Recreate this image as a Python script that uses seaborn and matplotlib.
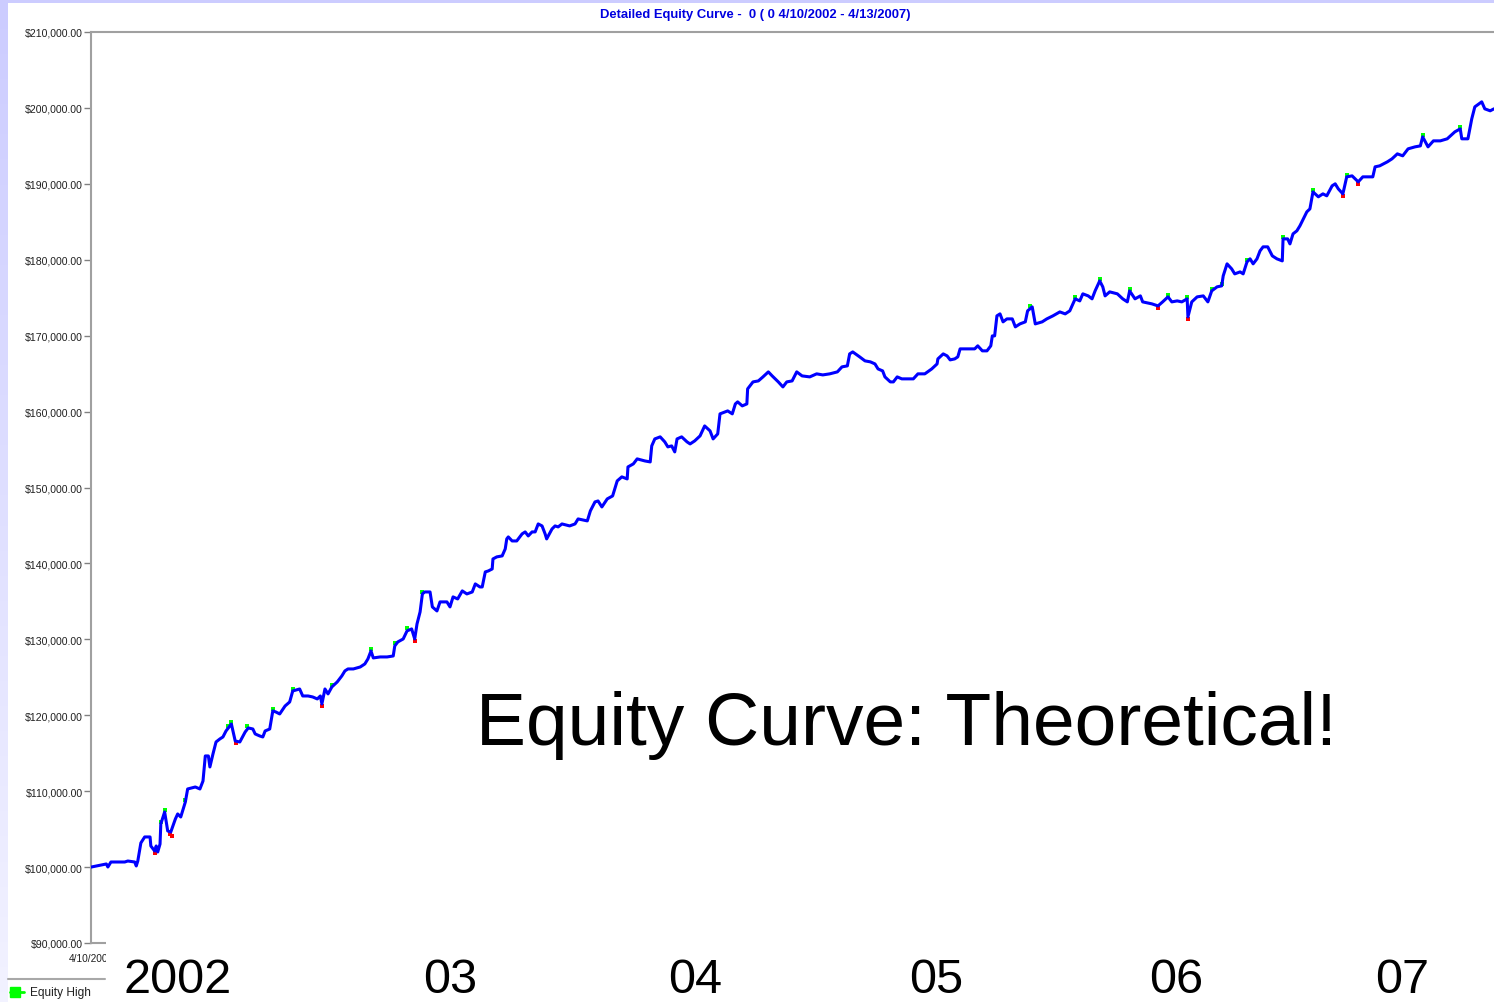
import numpy as np
import pandas as pd
import matplotlib
matplotlib.use("Agg")
import matplotlib.pyplot as plt
import seaborn as sns
from matplotlib.ticker import FuncFormatter
from matplotlib.patches import Rectangle
from matplotlib.lines import Line2D

start = pd.Timestamp("2002-04-10")
end = pd.Timestamp("2007-04-13")

# days after 4/10/2002 and closing equity
days = [0, 20, 22, 26, 44, 48, 57, 59, 61, 65,
        70, 77, 78, 83, 85, 87, 90, 91, 96, 100,
        104, 110, 113, 117, 123, 126, 136, 142, 146, 149,
        153, 155, 159, 163, 168, 172, 176, 183, 188, 194,
        201, 205, 211, 214, 220, 224, 227, 233, 237, 241,
        246, 253, 259, 263, 272, 276, 283, 289, 295, 299,
        301, 305, 309, 314, 321, 327, 331, 335, 342, 351,
        357, 361, 365, 368, 377, 386, 394, 396, 400, 407,
        412, 418, 422, 425, 429, 432, 435, 442, 445, 451,
        455, 464, 468, 472, 478, 484, 490, 497, 501, 507,
        510, 514, 518, 523, 524, 529, 536, 540, 542, 544,
        549, 555, 562, 566, 570, 575, 579, 583, 588, 592,
        594, 601, 605, 609, 614, 624, 631, 635, 647, 651,
        657, 661, 666, 673, 680, 686, 692, 699, 700, 707,
        712, 722, 729, 731, 735, 742, 748, 752, 757, 761,
        764, 770, 777, 781, 787, 794, 800, 807, 811, 817,
        820, 830, 836, 840, 843, 849, 855, 856, 863, 870,
        876, 883, 888, 892, 896, 902, 907, 914, 920, 927,
        937, 946, 954, 963, 973, 979, 986, 989, 993, 1002,
        1009, 1016, 1022, 1026, 1032, 1035, 1042, 1046, 1051, 1057,
        1064, 1072, 1078, 1087, 1096, 1103, 1104, 1111, 1116, 1120,
        1126, 1130, 1133, 1142, 1152, 1156, 1162, 1168, 1173, 1175,
        1178, 1181, 1185, 1189, 1194, 1201, 1205, 1211, 1218, 1221,
        1227, 1231, 1240, 1246, 1254, 1263, 1270, 1276, 1283, 1289,
        1293, 1300, 1305, 1309, 1315, 1319, 1322, 1328, 1338, 1345,
        1351, 1354, 1361, 1368, 1371, 1383, 1391, 1397, 1404, 1409,
        1416, 1422, 1429, 1430, 1435, 1442, 1450, 1456, 1461, 1468,
        1474, 1476, 1481, 1487, 1491, 1498, 1502, 1507, 1511, 1515,
        1520, 1524, 1528, 1534, 1540, 1546, 1553, 1554, 1560, 1563,
        1567, 1572, 1576, 1585, 1589, 1593, 1600, 1606, 1611, 1618,
        1622, 1626, 1632, 1637, 1644, 1652, 1658, 1665, 1671, 1674,
        1680, 1690, 1696, 1703, 1710, 1717, 1726, 1733, 1736, 1743,
        1750, 1759, 1768, 1778, 1785, 1787, 1795, 1800, 1804, 1813,
        1817, 1824, 1829]

equity = [100000, 100410, 100010, 100670, 100670, 100800, 100670, 100150, 100800, 103180,
          103970, 103970, 102780, 102120, 102780, 101990, 103040, 105680, 107260, 104760,
          104620, 106340, 107000, 106600, 108580, 110290, 110550, 110290, 111340, 114640,
          114640, 113190, 114900, 116480, 116880, 117140, 117930, 118850, 116610, 116480,
          117800, 118330, 118190, 117540, 117270, 117140, 117930, 118190, 120570, 120430,
          120170, 121220, 121750, 123200, 123460, 122540, 122540, 122410, 122150, 122540,
          121490, 123460, 122810, 123730, 124390, 125180, 125840, 126100, 126100, 126360,
          126760, 127420, 128470, 127550, 127680, 127680, 127810, 129130, 129660, 130050,
          131110, 131370, 130050, 132030, 133610, 135980, 136240, 136240, 134270, 133740,
          134930, 134930, 134270, 135590, 135320, 136380, 135980, 136240, 137300, 136900,
          136900, 138880, 139010, 139270, 140590, 140860, 140990, 141910, 143230, 143490,
          142960, 142960, 143890, 144150, 143620, 144150, 144150, 145200, 144940, 143890,
          143230, 144540, 144940, 144810, 145200, 144940, 145200, 145860, 145600, 146920,
          148100, 148230, 147440, 148500, 148890, 150870, 151400, 151130, 152710, 153110,
          153770, 153500, 153370, 155480, 156400, 156670, 156010, 155350, 155480, 154690,
          156400, 156670, 156010, 155740, 156140, 156800, 158110, 157460, 156400, 157060,
          159700, 160090, 159700, 161010, 161280, 160750, 161010, 162990, 163910, 164040,
          164570, 165230, 164700, 164310, 163910, 163250, 163910, 164040, 165230, 164700,
          164570, 164970, 164830, 164970, 165230, 165890, 166020, 167600, 167860, 167210,
          166680, 166550, 166280, 165620, 165360, 164570, 163910, 163910, 164570, 164310,
          164310, 164310, 164970, 164970, 165620, 166280, 166940, 167600, 167340, 166810,
          166940, 167210, 168260, 168260, 168260, 168660, 168000, 168000, 168660, 169970,
          169970, 172610, 172870, 171820, 172210, 172210, 171160, 171550, 171820, 173270,
          173790, 171550, 171820, 172210, 172610, 173130, 172870, 173270, 174850, 174580,
          175510, 175240, 174850, 175900, 177220, 176430, 175240, 175770, 175510, 174850,
          174450, 175900, 174850, 175240, 174450, 174190, 173920, 174450, 175110, 174450,
          174580, 174450, 174850, 172480, 174450, 175110, 175240, 174450, 175900, 176430,
          176560, 177880, 179460, 178800, 178140, 178400, 178140, 179720, 180120, 179460,
          180120, 181170, 181700, 181700, 180510, 180120, 179850, 182750, 182750, 182090,
          183410, 183810, 184470, 186310, 186700, 188940, 188290, 188680, 188420, 189740,
          190000, 189340, 188680, 190920, 191050, 190260, 190920, 190920, 190920, 192240,
          192370, 192900, 193290, 193950, 193690, 194610, 194870, 195000, 196190, 194870,
          195660, 195660, 195930, 196850, 197240, 195930, 195930, 198560, 200140, 200800,
          199880, 199620, 199880]

# intra-trade equity highs (green) and lows (red) poking out of the curve
high_days = [91, 96, 123, 179, 183, 204, 237, 263, 314, 365, 396, 412, 432,
             1224, 1283, 1315, 1354, 1404, 1429, 1461, 1474, 1507, 1554, 1593,
             1637, 1736, 1785]
high_vals = [105900, 107500, 108840, 118590, 119120, 118590, 120830, 123460,
             123990, 128740, 129530, 131500, 136240, 173920, 175110, 177480,
             176160, 175380, 175110, 176160, 176820, 179990, 183020, 189210,
             191180, 196450, 197510]
low_days = [83, 103, 106, 189, 301, 422, 1391, 1430, 1632, 1652]
low_vals = [101860, 104360, 104100, 116350, 121220, 129790, 173660, 172210,
            188420, 190000]

y_ticks = list(range(90000, 210001, 10000))
year_labels = ["2002", "03", "04", "05", "06", "07"]
year_px = [178, 450, 695, 936, 1176, 1402]

W, H = 1494, 1003

df = pd.DataFrame({"date": start + pd.to_timedelta(days, unit="D"), "equity": equity})
hi = pd.DataFrame({"date": start + pd.to_timedelta(high_days, unit="D"), "equity": high_vals})
lo = pd.DataFrame({"date": start + pd.to_timedelta(low_days, unit="D"), "equity": low_vals})

sns.set_style("white")
plt.rcParams["font.family"] = ["Liberation Sans", "DejaVu Sans"]

fig = plt.figure(figsize=(W / 100, H / 100), dpi=100)
fig.patch.set_facecolor("white")

ax = fig.add_axes([91 / W, 1 - 944 / H, 1 - 91 / W, (944 - 33) / H])

sns.scatterplot(data=hi, x="date", y="equity", color="#00ff00", marker="s",
                s=9, linewidth=0, ax=ax, zorder=2, legend=False)
sns.scatterplot(data=lo, x="date", y="equity", color="#ff0000", marker="s",
                s=9, linewidth=0, ax=ax, zorder=2, legend=False)
sns.lineplot(data=df, x="date", y="equity", color="#0000ff", linewidth=2.2,
             estimator=None, ax=ax, zorder=3)

ax.set_xlim(start, end)
ax.set_ylim(90000, 210000)
ax.set_yticks(y_ticks)
ax.yaxis.set_major_formatter(FuncFormatter(lambda v, p: f"${v:,.2f}"))
ax.set_xticks([start])
ax.set_xticklabels(["4/10/2002"])
ax.set_xlabel("")
ax.set_ylabel("")
ax.tick_params(axis="y", direction="out", length=5, width=1, color="#808080",
               pad=1, labelsize=7.6, labelcolor="#202020", left=True)
ax.tick_params(axis="x", length=0, pad=7, labelsize=7.3, labelcolor="#202020")
for side in ["left", "top", "bottom"]:
    ax.spines[side].set_color("#a0a0a0")
    ax.spines[side].set_linewidth(1.5)
ax.spines["right"].set_visible(False)

# lavender slide border: gradient strip on the left, flat strip on top
grad = np.linspace(0, 1, 200)[:, None]
cols = np.dstack([0.80 + 0.15 * grad, 0.80 + 0.15 * grad, np.ones_like(grad)])
bar = fig.add_axes([0, 0, 8 / W, 1])
bar.imshow(cols, aspect="auto", extent=(0, 1, 0, 1))
bar.set_axis_off()
fig.add_artist(Rectangle((0, 1 - 4 / H), 1, 4 / H, transform=fig.transFigure,
                         facecolor="#ccccff", edgecolor="none", zorder=4))

fig.text(755 / W, 1 - 15 / H, "Detailed Equity Curve -  0 ( 0 4/10/2002 - 4/13/2007)",
         ha="center", va="center", fontsize=9.4, fontweight="bold", color="#0000e0")

# legend strip under the chart
fig.add_artist(Line2D([8 / W, 105 / W], [1 - 980 / H] * 2, color="#a8a8a8",
                      linewidth=1.5, transform=fig.transFigure))
fig.add_artist(Line2D([10 / W, 24 / W], [1 - 993 / H] * 2, color="#00ff00",
                      linewidth=2, transform=fig.transFigure))
fig.add_artist(Line2D([15 / W], [1 - 993 / H], color="#00ff00", marker="s",
                      markersize=7, linewidth=0, transform=fig.transFigure))
fig.text(30 / W, 1 - 993 / H, "Equity High", ha="left", va="center",
         fontsize=8.6, color="#202020")

# slide overlay: white box hiding the axis, big year labels and caption
fig.add_artist(Rectangle((106 / W, 0), 1, (H - 941) / H, transform=fig.transFigure,
                         facecolor="white", edgecolor="none", zorder=5))
for lab, px in zip(year_labels, year_px):
    fig.text(px / W, 1 - 993 / H, lab, ha="center", va="baseline",
             fontsize=35, color="black", zorder=6)
fig.text(906 / W, 1 - 745 / H, "Equity Curve: Theoretical!", ha="center",
         va="baseline", fontsize=54, color="black", zorder=6)

fig.savefig("out.png", dpi=100)
